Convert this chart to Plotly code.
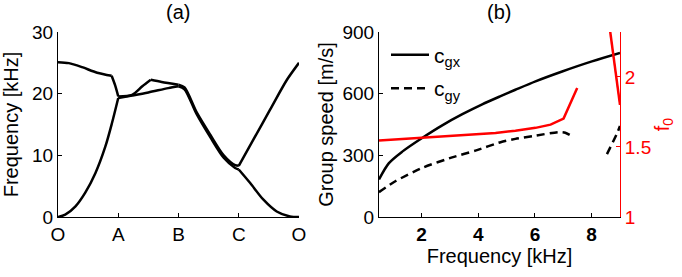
import plotly.graph_objects as go

# ---------------- Data: panel (a) band structure ----------------
path_ticks = [0, 1, 2, 3, 4]
path_labels = ["O", "A", "B", "C", "O"]

# lower band, segment by segment (path coordinate, frequency kHz)
low_OA_x = [0, 0.12, 0.29, 0.45, 0.62, 0.785, 0.895, 1.0]
low_OA_f = [0, 0.37, 1.72, 3.9, 7.1, 11.4, 15.2, 19.3]
low_AB_x = [1.0, 1.23, 1.5, 1.83, 2.0]
low_AB_f = [19.3, 19.7, 20.2, 20.9, 21.2]
low_BC_x = [2.0, 2.1, 2.3, 2.53, 2.75, 2.94, 3.0]
low_BC_f = [21.2, 20.7, 16.7, 12.9, 9.6, 7.95, 7.7]
low_CO_x = [3.0, 3.19, 3.41, 3.63, 3.85, 4.0]
low_CO_f = [7.7, 5.5, 2.8, 0.9, 0.1, 0]

# upper band
up_OA_x = [0, 0.18, 0.4, 0.65, 0.89]
up_OA_f = [25.1, 24.95, 24.3, 23.4, 22.9]
up_OA2_x = [0.89, 0.95, 1.0]
up_OA2_f = [22.9, 21.3, 19.55]
up_AB_x = [1.0, 1.23, 1.4, 1.54]
up_AB_f = [19.55, 19.8, 21.2, 22.25]
up_AB2_x = [1.54, 1.72, 2.0]
up_AB2_f = [22.25, 21.9, 21.45]
up_BC_x = [2.0, 2.1, 2.3, 2.53, 2.75, 2.94, 3.0]
up_BC_f = [21.45, 21.0, 17.0, 13.3, 10.0, 8.4, 8.3]
up_CO_x = [3.0, 3.24, 3.52, 3.80, 4.0]
up_CO_f = [8.3, 12.5, 17.4, 22.25, 25.0]

# ---------------- Data: panel (b) group speed ----------------
cgx_freq = [0.5, 0.85, 1.32, 2.06, 2.73, 3.44, 4.14, 4.79, 5.31, 6.02, 6.96, 8.01, 9.0]
cgx = [183, 262, 318, 388, 446, 500, 548, 588, 619, 660, 708, 757, 798]

cgy_freq = [0.5, 1.09, 2.06, 3.08, 3.90, 4.79, 5.31, 6.02, 6.84, 7.07, 7.31, None, 8.54, 8.89, 9.0]
cgy = [121, 175, 241, 290, 323, 364, 380, 396, 413, 410, 393, None, 306, 405, 443]

f0_freq = [0.5, 2.06, 3.44, 4.61, 5.31, 6.02, 6.55, 7.01, 7.49, None, 8.57, 9.0]
f0 = [1.545, 1.564, 1.581, 1.60, 1.616, 1.636, 1.659, 1.702, 1.921, None, 2.45, 1.80]

FONT = "Liberation Sans, Arial, Helvetica, sans-serif"
W, H = 682, 277
# plot-area frame (pixels)
L, R, T, B = 58, 620, 32.3, 217.3
PW, PH = R - L, B - T


def px_x(p):
    return (p - L) / PW


def px_y(p):
    return (B - p) / PH


fig = go.Figure()
blk = dict(color="black", width=2.5, shape="spline", smoothing=0.8)
segments = [(low_OA_x, low_OA_f), (low_AB_x, low_AB_f), (low_BC_x, low_BC_f), (low_CO_x, low_CO_f),
            (up_OA_x, up_OA_f), (up_OA2_x, up_OA2_f), (up_AB_x, up_AB_f), (up_AB2_x, up_AB2_f),
            (up_BC_x, up_BC_f), (up_CO_x, up_CO_f)]
for sx, sf in segments:
    fig.add_trace(go.Scatter(x=sx, y=sf, mode="lines", line=blk,
                             xaxis="x", yaxis="y", showlegend=False))

fig.add_trace(go.Scatter(x=cgx_freq, y=cgx, mode="lines", line=blk,
                         name="c<sub>gx</sub>", xaxis="x2", yaxis="y2", legendgroup="a"))
fig.add_trace(go.Scatter(x=cgy_freq, y=cgy, mode="lines",
                         line=dict(color="black", width=2.5, dash="8px,5px", shape="spline", smoothing=0.6),
                         name="c<sub>gy</sub>", xaxis="x2", yaxis="y2", legendgroup="b",
                         connectgaps=False))
fig.add_trace(go.Scatter(x=f0_freq, y=f0, mode="lines", line=dict(color="#ff0000", width=2.5),
                         xaxis="x2", yaxis="y3", showlegend=False, connectgaps=False))

ax_common = dict(showline=True, linecolor="black", linewidth=1, ticks="inside", ticklen=4,
                 tickcolor="black", tickwidth=1, showgrid=False, zeroline=False, automargin=False,
                 tickfont=dict(family=FONT, size=19, color="black"))

fig.update_layout(
    template="none",
    width=W, height=H, margin=dict(l=L, r=W - R, t=T, b=H - B, pad=0),
    paper_bgcolor="white", plot_bgcolor="white",
    font=dict(family=FONT, size=19, color="black"),
    xaxis=dict(domain=[0, px_x(299)], range=[0, 4], tickvals=path_ticks, ticktext=path_labels,
               anchor="y", **ax_common),
    yaxis=dict(domain=[0, 1], range=[0, 30], tickvals=[0, 10, 20, 30], anchor="x",
               title=dict(text="Frequency [kHz]", font=dict(size=20), standoff=9), **ax_common),
    xaxis2=dict(domain=[px_x(379), 1], range=[0.5, 9], tickvals=[2, 4, 6, 8],
                ticktext=["<b>2</b>", "<b>4</b>", "<b>6</b>", "<b>8</b>"], anchor="y2",
                title=dict(text="Frequency [kHz]", font=dict(size=20), standoff=2), **ax_common),
    yaxis2=dict(domain=[0, 1], range=[0, 900], tickvals=[0, 300, 600, 900], anchor="x2",
                title=dict(text="Group speed [m/s]", font=dict(size=20), standoff=3), **ax_common),
    yaxis3=dict(domain=[0, 1], range=[1, 2.32], tickvals=[1, 1.5, 2], ticktext=["1", "1.5", "2"],
                overlaying="y2", side="right", anchor="x2", automargin=False,
                showline=True, linecolor="#ff0000", linewidth=1, ticks="inside", ticklen=4,
                tickcolor="#ff0000", showgrid=False, zeroline=False,
                tickfont=dict(family=FONT, size=19, color="#ff0000"),
                title=dict(text="f<sub>0</sub>", font=dict(size=20, color="#ff0000"), standoff=4)),
    legend=dict(x=px_x(386), y=px_y(35), xanchor="left", yanchor="top",
                bgcolor="rgba(0,0,0,0)", borderwidth=0, font=dict(family=FONT, size=21),
                tracegroupgap=3, itemwidth=38),
    showlegend=True,
    annotations=[
        dict(text="(a)", x=px_x(178), y=px_y(12), xref="paper", yref="paper",
             showarrow=False, font=dict(family=FONT, size=20), xanchor="center", yanchor="middle"),
        dict(text="(b)", x=px_x(499), y=px_y(12), xref="paper", yref="paper",
             showarrow=False, font=dict(family=FONT, size=20), xanchor="center", yanchor="middle"),
    ],
)

fig.write_html("out.html", config={"displayModeBar": False},
               post_script="document.body.style.margin='0';document.body.style.overflow='hidden';")
